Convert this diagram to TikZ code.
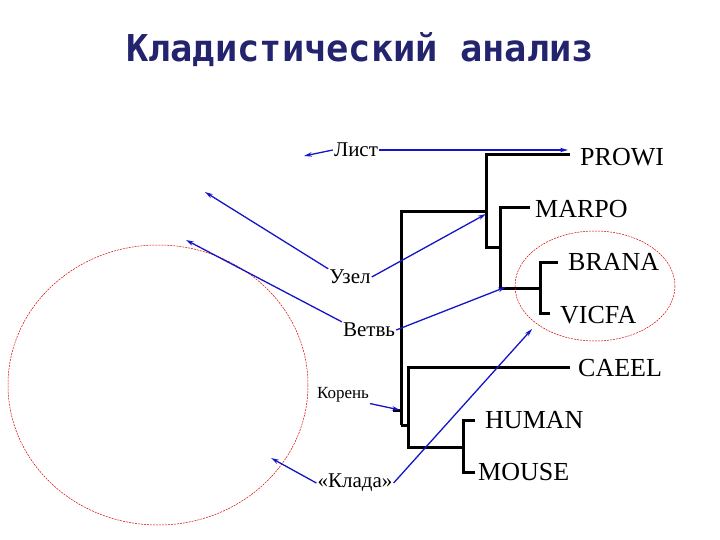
\documentclass[tikz,border=0pt]{standalone}
\usepackage{fontspec}
\usetikzlibrary{arrows.meta}
\setmainfont{Liberation Serif}
\newfontfamily\titlefont{DejaVu Sans Mono}
\begin{document}
\begin{tikzpicture}[x=1pt,y=-1pt,
  br/.style={line width=3pt,line cap=butt},
  bl/.style={draw={rgb,255:red,20;green,20;blue,200},line width=1.3pt,-{Stealth[length=8pt,width=4.5pt]}},
  lab/.style={font=\rmfamily\fontsize{26}{26}\selectfont,inner sep=0pt,anchor=west},
  ann/.style={font=\rmfamily\fontsize{21}{21}\selectfont,inner sep=1pt},
  cl/.style={draw=red!85!black,dashed,dash pattern=on 2pt off 1pt,line width=0.5pt}]
\useasboundingbox (0,0) rectangle (720,540);
\node[font=\titlefont\bfseries\fontsize{37}{37}\selectfont,text={rgb,255:red,35;green,35;blue,110}] (title) at (360,50) {Кладистический анализ};
% tree
\draw[br] (393,410) -- (401,410);
\draw[br] (401,425) -- (401,212) -- (486,212);
\draw[br] (570,155) -- (486,155) -- (486,247) -- (500,247);
\draw[br] (530,208) -- (500,208) -- (500,288) -- (540,288);
\draw[br] (558,262) -- (540,262) -- (540,313) -- (550,313);
\draw[br] (401,425) -- (408,425);
\draw[br] (570,367) -- (408,367) -- (408,447) -- (463,447);
\draw[br] (475,420) -- (463,420) -- (463,472) -- (475,472);
\node[lab] (prowi) at (580,157) {PROWI};
\node[lab] (marpo) at (535,209) {MARPO};
\node[lab] (brana) at (568,262) {BRANA};
\node[lab] (vicfa) at (560,315) {VICFA};
\node[lab] (caeel) at (578,368) {CAEEL};
\node[lab] (human) at (485,420) {HUMAN};
\node[lab] (mouse) at (478,472) {MOUSE};
% clade ellipses
\draw[cl] (595,286) ellipse [x radius=80,y radius=55];
\draw[cl] (158,385) ellipse [x radius=150,y radius=140];
% annotations
\node[ann] (list) at (356,150) {Лист};
\node[ann] (uzel) at (350,277) {Узел};
\node[ann] (vetv) at (369,330) {Ветвь};
\node[ann,font=\rmfamily\fontsize{17}{17}\selectfont] (koren) at (343,395) {Корень};
\node[ann] (klada) at (355,483) {«Клада»};
\coordinate (t1) at (304,156);
\coordinate (t2) at (568,150);
\coordinate (t3) at (486,214);
\coordinate (t4) at (506,287);
\coordinate (t5) at (400,410);
\coordinate (t6) at (532,329);
\coordinate (t7) at (205,192);
\coordinate (t8) at (186,240);
\coordinate (t9) at (271,458);
\draw[bl] (list.west) -- (t1);
\draw[bl] (list.east) -- (t2);
\draw[bl] (uzel.east) -- (t3);
\draw[bl] (uzel.north west) -- (t7);
\draw[bl] (vetv.east) -- (t4);
\draw[bl] (vetv.north west) -- (t8);
\draw[bl] (koren.south east) -- (t5);
\draw[bl] (klada.east) -- (t6);
\draw[bl] (klada.west) -- (t9);
\end{tikzpicture}
\end{document}
